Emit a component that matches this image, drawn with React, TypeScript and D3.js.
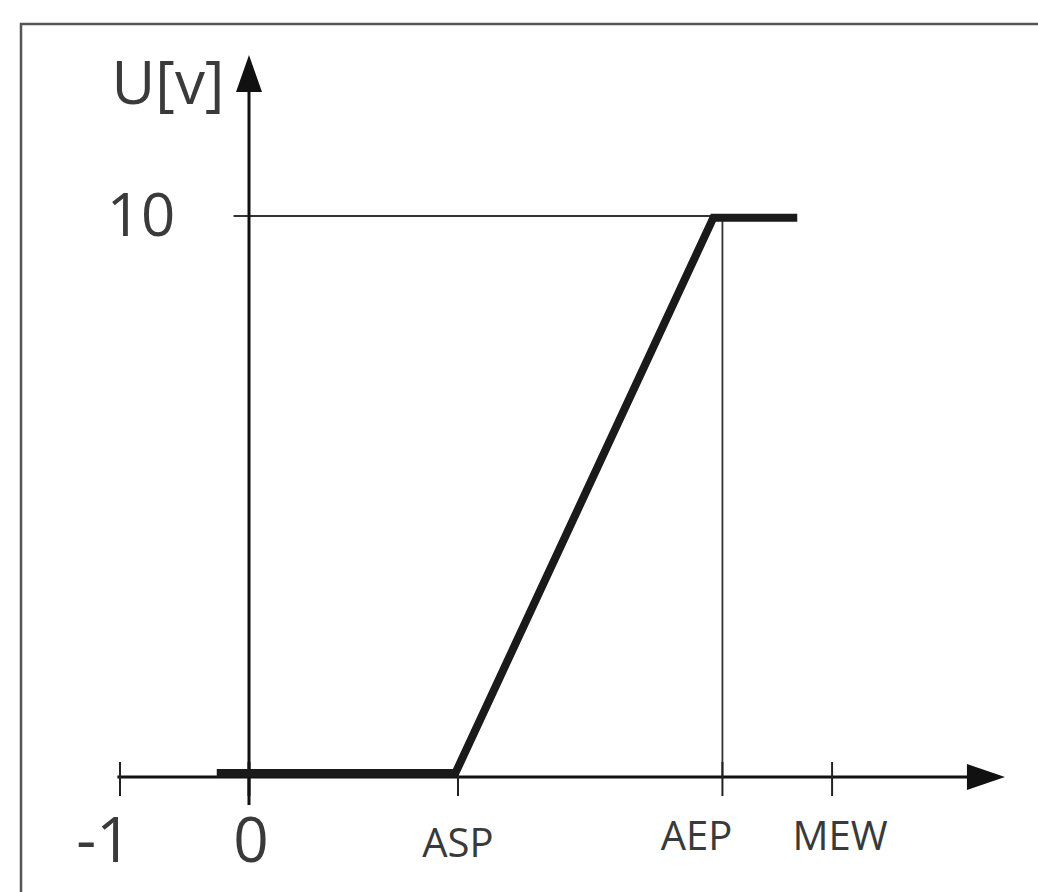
import React from "react";
import * as d3 from "d3";

// Axis ticks (abstract positions on the travel axis)
const tickLabels = ["-1", "0", "ASP", "AEP", "MEW"];
const tickValues = [-1, 0, 1.62, 3.67, 4.52];

// Output characteristic U[v] vs travel
const curveX = [-0.25, 1.6, 3.6, 4.25];
const curveY = [0.07, 0.07, 9.97, 9.97];

const yTickLabels = ["10"];
const yTickValues = [10];

const W = 1038;
const H = 892;

export default function App() {
  const x = d3.scaleLinear().domain([-1, 0]).range([120, 249]);
  const y = d3.scaleLinear().domain([0, 10]).range([777, 216]);

  const pts: [number, number][] = curveX.map((v, i) => [v, curveY[i]]);
  const line = d3
    .line<[number, number]>()
    .x((d) => x(d[0]))
    .y((d) => y(d[1]));

  const x0 = x(0);
  const y0 = y(0);
  const xEnd = x(5.86);
  const yEnd = y(12.87);

  const labelStyle: Record<string, { dx: number; y: number; size: number }> = {
    "-1": { dx: -16, y: 862, size: 62 },
    "0": { dx: 2, y: 862, size: 62 },
    ASP: { dx: 0, y: 857, size: 40 },
    AEP: { dx: -26, y: 850, size: 40 },
    MEW: { dx: 8, y: 850, size: 40 },
  };

  const aep = tickValues[3];

  return (
    <svg
      width={W}
      height={H}
      style={{ position: "absolute", left: 0, top: 0, background: "#fff", overflow: "hidden" }}
      fontFamily="'Open Sans', sans-serif"
    >
      <rect x={0} y={0} width={W} height={H} fill="#fff" />
      {/* frame (only left and top edges visible) */}
      <path d={`M21,${H + 20} L21,24 L${W + 20},24`} fill="none" stroke="#555" strokeWidth={2.5} />

      {/* reference lines */}
      <line x1={x(-0.12)} x2={x(aep)} y1={y(10)} y2={y(10)} stroke="#333" strokeWidth={1.8} />
      <line x1={x(aep)} x2={x(aep)} y1={y(10)} y2={y0} stroke="#333" strokeWidth={1.8} />

      {/* x axis */}
      <line x1={x(-1.02)} x2={xEnd - 30} y1={y0} y2={y0} stroke="#111" strokeWidth={3} />
      <path d={`M${xEnd},${y0} L${xEnd - 38},${y0 - 13} L${xEnd - 38},${y0 + 13} Z`} fill="#111" />
      {tickValues.map((v, i) => (
        <line key={"t" + i} x1={x(v)} x2={x(v)} y1={762} y2={796} stroke="#222" strokeWidth={i === 1 ? 3 : 2} />
      ))}

      {/* y axis */}
      <line x1={x0} x2={x0} y1={805} y2={yEnd + 30} stroke="#111" strokeWidth={3} />
      <path d={`M${x0},${yEnd} L${x0 - 13},${yEnd + 37} L${x0 + 13},${yEnd + 37} Z`} fill="#111" />

      {/* curve */}
      <path d={line(pts) || ""} fill="none" stroke="#1a1a1a" strokeWidth={8} strokeLinejoin="miter" strokeLinecap="butt" />

      {/* tick labels */}
      {tickLabels.map((t, i) => {
        const s = labelStyle[t];
        return (
          <text key={t} x={x(tickValues[i]) + s.dx} y={s.y} fontSize={s.size} textAnchor="middle" fill="#3a3a3a">
            {t}
          </text>
        );
      })}
      {yTickLabels.map((t, i) => (
        <text key={t} x={141} y={y(yTickValues[i]) + 20} fontSize={60} textAnchor="middle" fill="#3a3a3a">
          {t}
        </text>
      ))}
      <text x={168} y={104} fontSize={60} textAnchor="middle" fill="#3a3a3a">
        U[v]
      </text>
    </svg>
  );
}
